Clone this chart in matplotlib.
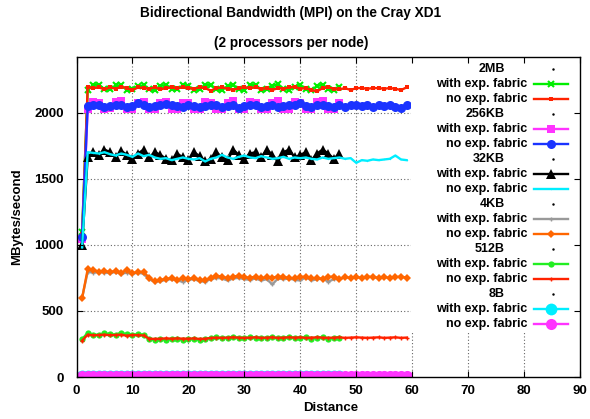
import matplotlib
matplotlib.use('Agg')
import matplotlib.pyplot as plt
from matplotlib.patches import Rectangle

plt.rcParams['font.family'] = ['Liberation Sans', 'DejaVu Sans']
plt.rcParams['font.weight'] = 'bold'
plt.rcParams['font.size'] = 9

# distances
dist_no = list(range(1, 60))
dist_with = list(range(1, 48))

# 2MB
mb2_with = [1100, 2170, 2210, 2210, 2175, 2175, 2205, 2205, 2170, 2180,
            2200, 2205, 2175, 2170, 2200, 2210, 2180, 2175, 2205, 2200,
            2170, 2175, 2210, 2205, 2175, 2170, 2200, 2210, 2175, 2170,
            2205, 2210, 2170, 2175, 2200, 2215, 2180, 2170, 2195, 2210,
            2175, 2170, 2200, 2210, 2175, 2170, 2195]
mb2_no = [1080, 2190, 2185, 2190, 2175, 2190, 2180, 2195, 2185, 2170,
          2190, 2185, 2180, 2190, 2175, 2185, 2190, 2185, 2190, 2185,
          2180, 2190, 2185, 2165, 2185, 2190, 2180, 2170, 2185, 2190,
          2185, 2190, 2180, 2185, 2170, 2185, 2180, 2190, 2195, 2180,
          2185, 2170, 2160, 2185, 2190, 2180, 2175, 2185, 2170, 2185,
          2185, 2180, 2185, 2185, 2180, 2185, 2180, 2170, 2190]

# 256KB
kb256_with = [1040, 2030, 2080, 2075, 2030, 2035, 2080, 2085, 2030, 2025,
              2075, 2080, 2030, 2030, 2070, 2080, 2025, 2030, 2075, 2070,
              2030, 2025, 2080, 2075, 2030, 2030, 2075, 2085, 2025, 2030,
              2080, 2075, 2030, 2025, 2070, 2085, 2030, 2030, 2080, 2075,
              2030, 2025, 2080, 2085, 2030, 2030, 2070]
kb256_no = [1060, 2050, 2055, 2060, 2045, 2050, 2060, 2055, 2045, 2050,
            2070, 2055, 2040, 2050, 2060, 2065, 2055, 2050, 2040, 2055,
            2050, 2045, 2050, 2055, 2060, 2045, 2050, 2055, 2035, 2050,
            2060, 2055, 2040, 2050, 2055, 2045, 2050, 2060, 2055, 2070,
            2050, 2040, 2055, 2060, 2050, 2045, 2055, 2040, 2060, 2055,
            2050, 2060, 2045, 2055, 2050, 2060, 2045, 2035, 2060]

# 32KB
kb32_with = [1000, 1660, 1700, 1680, 1720, 1700, 1660, 1710, 1680, 1650,
             1690, 1720, 1660, 1700, 1680, 1650, 1640, 1690, 1660, 1640,
             1700, 1670, 1630, 1650, 1700, 1660, 1640, 1720, 1680, 1650,
             1690, 1700, 1660, 1720, 1680, 1630, 1700, 1720, 1660, 1680,
             1700, 1640, 1690, 1720, 1690, 1650, 1690]
kb32_no = [980, 1700, 1695, 1690, 1700, 1685, 1675, 1690, 1680, 1665,
           1690, 1670, 1680, 1660, 1650, 1655, 1640, 1650, 1660, 1650,
           1645, 1655, 1630, 1650, 1660, 1680, 1660, 1650, 1665, 1675,
           1660, 1655, 1670, 1660, 1650, 1655, 1665, 1650, 1660, 1655,
           1660, 1650, 1645, 1660, 1650, 1655, 1660, 1650, 1655, 1620,
           1640, 1635, 1645, 1640, 1645, 1650, 1675, 1645, 1640]

# 4KB
kb4_with = [600, 795, 790, 795, 790, 785, 795, 780, 790, 780,
            790, 780, 740, 720, 725, 735, 740, 730, 720, 735,
            740, 725, 720, 740, 750, 745, 730, 745, 750, 740,
            735, 745, 730, 740, 700, 745, 740, 745, 735, 730,
            755, 730, 740, 745, 720, 740, 745]
kb4_no = [595, 815, 810, 795, 800, 795, 800, 790, 810, 785,
          795, 795, 750, 725, 735, 740, 750, 735, 745, 740,
          750, 735, 730, 750, 765, 760, 745, 760, 765, 755,
          750, 760, 745, 755, 750, 760, 755, 750, 745, 755,
          760, 745, 750, 740, 755, 760, 740, 755, 750, 755,
          750, 760, 755, 750, 760, 745, 755, 760, 750]

# 512B
b512_with = [285, 335, 320, 320, 330, 325, 320, 335, 322, 318,
             325, 320, 285, 282, 288, 280, 285, 288, 282, 285,
             288, 280, 285, 295, 300, 292, 298, 300, 295, 292,
             300, 296, 292, 298, 300, 292, 296, 300, 295, 292,
             305, 290, 296, 300, 290, 295, 298]
b512_no = [275, 320, 315, 318, 320, 316, 318, 320, 312, 318,
           316, 314, 290, 288, 290, 292, 290, 292, 290, 290,
           292, 288, 290, 295, 298, 296, 298, 300, 298, 296,
           298, 300, 296, 298, 300, 296, 298, 300, 298, 300,
           296, 298, 300, 298, 296, 298, 300, 296, 298, 300,
           298, 296, 298, 300, 296, 298, 300, 296, 298]

# 8B
b8_with = [9, 10, 10, 11, 10, 10, 9, 10, 10, 11,
           10, 10, 10, 9, 10, 10, 11, 10, 10, 10,
           9, 10, 10, 10, 11, 10, 10, 9, 10, 10,
           10, 11, 10, 10, 9, 10, 10, 10, 11, 10,
           10, 9, 10, 10, 10, 11, 10]
b8_no = [8, 9, 9, 10, 9, 9, 8, 9, 9, 10,
         9, 9, 9, 8, 9, 9, 10, 9, 9, 9,
         8, 9, 9, 9, 10, 9, 9, 8, 9, 9,
         9, 10, 9, 9, 8, 9, 9, 9, 10, 9,
         9, 8, 9, 9, 9, 10, 9, 9, 9, 8,
         9, 9, 10, 9, 9, 9, 8, 9, 9]

sizes = ['2MB', '256KB', '32KB', '4KB', '512B', '8B']
with_data = [mb2_with, kb256_with, kb32_with, kb4_with, b512_with, b8_with]
no_data = [mb2_no, kb256_no, kb32_no, kb4_no, b512_no, b8_no]

with_style = [
    dict(color='#00ee00', marker='x', ms=5, mew=1.5),
    dict(color='#ff33ff', marker='s', ms=5.5, mew=0),
    dict(color='black', marker='^', ms=7.5, mew=0),
    dict(color='#999999', marker='+', ms=3, mew=1),
    dict(color='#22ee22', marker='o', ms=4.5, mew=0),
    dict(color='#00eeff', marker='o', ms=8.5, mew=0),
]
no_style = [
    dict(color='#ff2200', marker='s', ms=3.5, mew=0),
    dict(color='#1a33ff', marker='o', ms=6.5, mew=0),
    dict(color='#00eeff', marker='.', ms=2, mew=0),
    dict(color='#ff6600', marker='D', ms=4.5, mew=0),
    dict(color='#ff2200', marker='+', ms=3, mew=1),
    dict(color='#ff33ff', marker='o', ms=8, mew=0),
]

fig = plt.figure(figsize=(5.9, 4.19), dpi=100)
ax = fig.add_axes([76.5 / 590, 42 / 419, (580 - 76.5) / 590, 320 / 419])

for i in range(len(sizes)):
    ax.plot(dist_with, with_data[i], lw=1.7, zorder=2, **with_style[i])
    ax.plot(dist_no, no_data[i], lw=1.7, zorder=2, **no_style[i])

ax.set_xlim(0, 90)
ax.set_ylim(0, 2420)
ax.set_xticks(range(0, 91, 10))
ax.set_yticks(range(0, 2001, 500))

# dotted grid, behind the key box
for xv in range(10, 90, 10):
    ax.axvline(xv, color='#666666', lw=0.8, ls=(0, (1, 2)), zorder=1)
for yv in range(500, 2001, 500):
    ax.axhline(yv, color='#666666', lw=0.8, ls=(0, (1, 2)), zorder=1)

ax.tick_params(direction='in', top=True, right=True, length=4, width=0.8,
               labelsize=9.5)
ax.tick_params(axis='x', pad=6)
ax.tick_params(axis='y', pad=9)
for lab in ax.get_xticklabels() + ax.get_yticklabels():
    lab.set_fontweight('bold')
ax.set_axisbelow(False)
for sp in ax.spines.values():
    sp.set_linewidth(1.0)
    sp.set_zorder(4)

# key box (opaque, like gnuplot)
ax.add_patch(Rectangle((0.664, 0.1375), 0.336, 0.8625, transform=ax.transAxes,
                       facecolor='white', edgecolor='none', zorder=2.5))

row = 0
for i, name in enumerate(sizes):
    for label, st in [(name, None), ('with exp. fabric', with_style[i]),
                      ('no exp. fabric', no_style[i])]:
        yy = (377 - (69 + 15 * row)) / 320
        if st is None:
            ax.text(0.851, yy, label, transform=ax.transAxes, ha='right',
                    va='center', fontweight='bold', zorder=3)
            ax.plot([0.946], [yy], transform=ax.transAxes, marker='.',
                    ms=1.5, color='black', clip_on=False, zorder=3)
        else:
            ax.text(0.895, yy, label, transform=ax.transAxes, ha='right',
                    va='center', fontweight='bold', zorder=3)
            ax.plot([0.909, 0.9425, 0.976], [yy, yy, yy], transform=ax.transAxes,
                    lw=1.7, markevery=[1], clip_on=False, zorder=3, **st)
        row += 1

fig.text(0.493, 1 - 13 / 419, 'Bidirectional Bandwidth (MPI) on the Cray XD1',
         ha='center', va='center', fontweight='bold', fontsize=9.8)
fig.text(0.493, 1 - 43 / 419, '(2 processors per node)',
         ha='center', va='center', fontweight='bold', fontsize=9.8)
fig.text(331 / 590, 1 - 408 / 419, 'Distance', ha='center', va='center',
         fontweight='bold', fontsize=9.5)
fig.text(17 / 590, 1 - 217 / 419, 'MBytes/second', ha='center', va='center',
         rotation=90, fontweight='bold', fontsize=9.5)

fig.savefig('out.png', dpi=100)
